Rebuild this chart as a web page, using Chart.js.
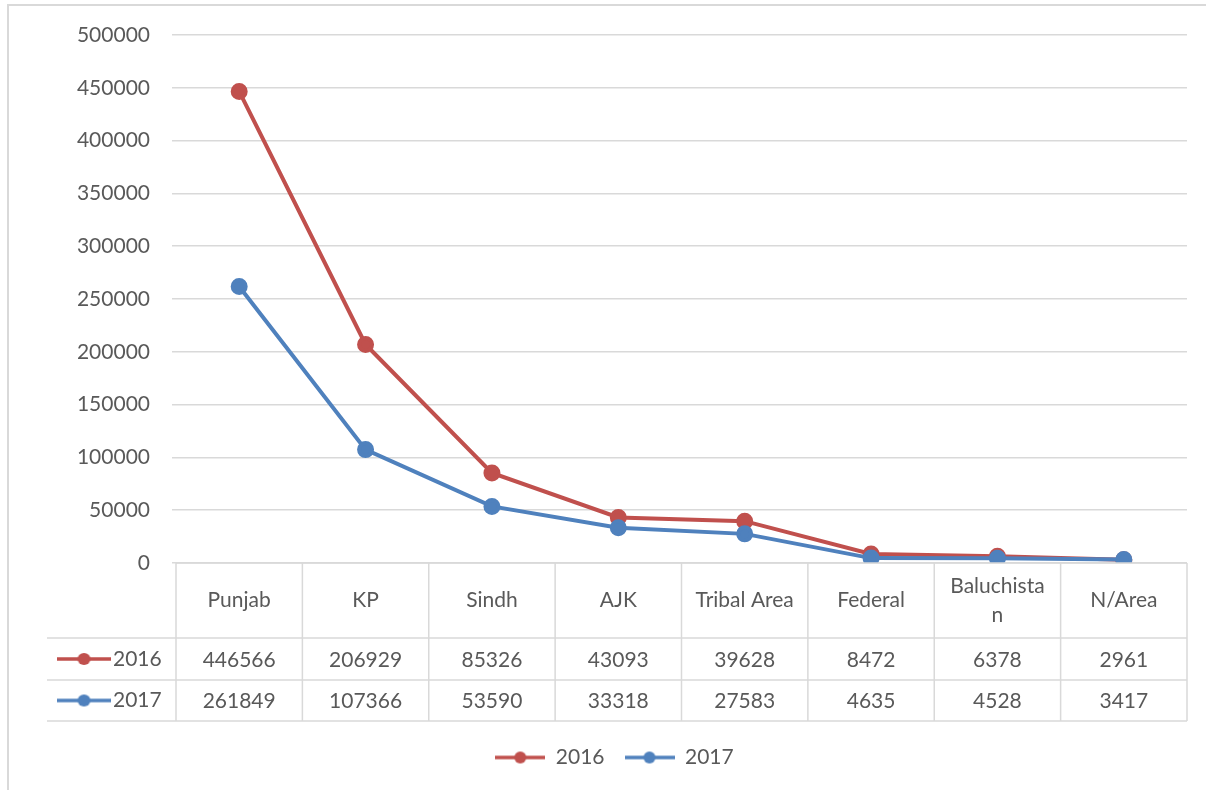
<!DOCTYPE html>
<html>
<head>
<meta charset="utf-8">
<script src="https://cdn.jsdelivr.net/npm/chart.js@4.4.1/dist/chart.umd.min.js"></script>
<style>
  html, body { margin: 0; padding: 0; background: #ffffff; }
  #wrap { position: relative; width: 1206px; height: 790px; }
  #frame { position: absolute; left: 7px; top: 4px; width: 1210px; height: 800px;
           border-left: 2px solid #d9d9d9; border-top: 2px solid #d9d9d9; box-sizing: border-box; }
  canvas { position: absolute; left: 0; top: 0; }
</style>
</head>
<body>
<div id="wrap">
  <div id="frame"></div>
  <canvas id="c" width="1206" height="790"></canvas>
</div>
<script>
// Provinces / regions
const regions = ['Punjab', 'KP', 'Sindh', 'AJK', 'Tribal Area', 'Federal', 'Baluchistan', 'N/Area'];
// Header text as it wraps inside the table cells
const headerLines = [['Punjab'], ['KP'], ['Sindh'], ['AJK'], ['Tribal Area'], ['Federal'], ['Baluchista', 'n'], ['N/Area']];
const values2016 = [446566, 206929, 85326, 43093, 39628, 8472, 6378, 2961];
const values2017 = [261849, 107366, 53590, 33318, 27583, 4635, 4528, 3417];
const yTicks = [0, 50000, 100000, 150000, 200000, 250000, 300000, 350000, 400000, 450000, 500000];

const RED = '#c0504d';
const BLUE = '#4f81bd';
const TEXT = '#595959';
const GRID = '#d9d9d9';
const FONT = 'Lato, "Open Sans", sans-serif';
const FS = 21;

// Line-with-dot key used in the legend and in the table rows
function keyImage(color) {
  const cv = document.createElement('canvas');
  cv.width = 50; cv.height = 16;
  const g = cv.getContext('2d');
  g.strokeStyle = color; g.lineWidth = 3.5;
  g.beginPath(); g.moveTo(0, 8); g.lineTo(50, 8); g.stroke();
  g.fillStyle = color;
  g.beginPath(); g.arc(25, 8, 6, 0, Math.PI * 2); g.fill();
  return cv;
}
const key2016 = keyImage(RED);
const key2017 = keyImage(BLUE);

// Data table drawn under the plot, aligned with the category scale
const dataTable = {
  id: 'dataTable',
  afterDraw(chart) {
    const ctx = chart.ctx;
    const x = chart.scales.x;
    const area = chart.chartArea;
    const n = regions.length;
    const step = x.getPixelForValue(1) - x.getPixelForValue(0);
    const left = x.getPixelForValue(0) - step / 2;
    const right = x.getPixelForValue(n - 1) + step / 2;
    const top = area.bottom;
    const row1 = top + 75, row2 = row1 + 42, bottom = row2 + 41;
    const keyLeft = 47;

    ctx.save();
    ctx.strokeStyle = GRID;
    ctx.lineWidth = 1.5;
    ctx.beginPath();
    ctx.moveTo(left, top); ctx.lineTo(right, top);
    ctx.moveTo(keyLeft, row1); ctx.lineTo(right, row1);
    ctx.moveTo(keyLeft, row2); ctx.lineTo(right, row2);
    ctx.moveTo(keyLeft, bottom); ctx.lineTo(right, bottom);
    for (let i = 0; i <= n; i++) {
      const xx = left + i * step;
      ctx.moveTo(xx, top); ctx.lineTo(xx, bottom);
    }
    ctx.stroke();

    ctx.fillStyle = TEXT;
    ctx.font = FS + 'px ' + FONT;
    ctx.textAlign = 'center';
    ctx.textBaseline = 'middle';
    for (let i = 0; i < n; i++) {
      const cx = x.getPixelForValue(i);
      const lines = headerLines[i];
      const midY = (top + row1) / 2;
      const lh = 29;
      lines.forEach((t, k) => {
        ctx.fillText(t, cx, midY + (k - (lines.length - 1) / 2) * lh);
      });
      ctx.fillText(String(values2016[i]), cx, (row1 + row2) / 2 + 1);
      ctx.fillText(String(values2017[i]), cx, (row2 + bottom) / 2 + 1);
    }

    // row keys
    ctx.textAlign = 'left';
    const k1y = (row1 + row2) / 2, k2y = (row2 + bottom) / 2;
    ctx.drawImage(key2016, 57, k1y - 8, 54, 16);
    ctx.drawImage(key2017, 57, k2y - 8, 54, 16);
    ctx.fillText('2016', 113, k1y);
    ctx.fillText('2017', 113, k2y);
    ctx.restore();
  }
};

new Chart(document.getElementById('c'), {
  type: 'line',
  data: {
    labels: regions,
    datasets: [
      {
        label: '2016', data: values2016, order: 1,
        borderColor: RED, backgroundColor: RED, borderWidth: 4,
        pointRadius: 6.5, pointBackgroundColor: RED, pointBorderColor: RED,
        pointStyle: 'circle', tension: 0
      },
      {
        label: '2017', data: values2017, order: 0,
        borderColor: BLUE, backgroundColor: BLUE, borderWidth: 4,
        pointRadius: 6.5, pointBackgroundColor: BLUE, pointBorderColor: BLUE,
        pointStyle: 'circle', tension: 0
      }
    ]
  },
  options: {
    responsive: false,
    animation: false,
    devicePixelRatio: 1,
    layout: { padding: { top: 35, right: 19, left: 42, bottom: 12 } },
    scales: {
      x: {
        offset: true,
        grid: { display: false },
        border: { display: false },
        ticks: { display: false },
        afterFit(scale) { scale.height = 164; }
      },
      y: {
        min: 0, max: 500000,
        afterBuildTicks(scale) { scale.ticks = yTicks.map(v => ({ value: v })); },
        afterFit(scale) { scale.width = 134; },
        grid: { color: GRID, lineWidth: 1.5, drawTicks: true, tickLength: 4 },
        border: { display: false },
        ticks: {
          color: TEXT, font: { family: FONT, size: FS }, padding: 22,
          callback: v => String(v)
        }
      }
    },
    plugins: {
      legend: {
        position: 'bottom',
        labels: {
          color: TEXT,
          font: { family: FONT, size: FS },
          usePointStyle: true,
          pointStyleWidth: 50,
          padding: 20,
          generateLabels(chart) {
            return chart.data.datasets.map((ds, i) => ({
              text: ds.label,
              pointStyle: i === 0 ? key2016 : key2017,
              fontColor: TEXT,
              lineWidth: 0,
              strokeStyle: 'transparent',
              fillStyle: 'transparent',
              datasetIndex: i,
              hidden: false
            }));
          }
        }
      },
      tooltip: { enabled: false }
    }
  },
  plugins: [dataTable]
});
</script>
</body>
</html>
